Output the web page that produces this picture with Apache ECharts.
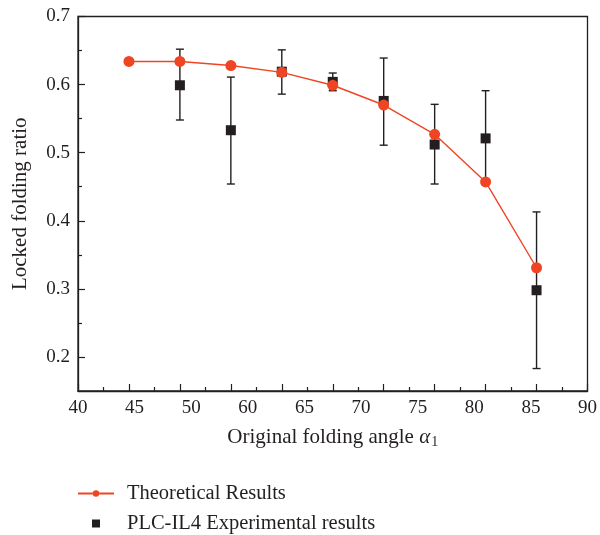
<!DOCTYPE html>
<html>
<head>
<meta charset="utf-8">
<script src="https://cdn.jsdelivr.net/npm/echarts@6/dist/echarts.min.js"></script>
<style>
html,body{margin:0;padding:0;background:#fff;}
#chart{width:600px;height:535px;}
</style>
</head>
<body>
<div id="chart"></div>
<script>
// ---- data ----
const xTickLabels = ['40','45','50','60','65','70','75','80','85','90'];
const yMajorTicks = [0.2, 0.3, 0.4, 0.5, 0.6, 0.7];
const yMinorTicks = [0.25, 0.35, 0.45, 0.55, 0.65];
const theoX = [45, 50, 55, 60, 65, 70, 75, 80, 85];
const theoY = [0.634, 0.634, 0.628, 0.618, 0.599, 0.570, 0.527, 0.457, 0.331];
const expX = [50, 55, 60, 65, 70, 75, 80, 85];
const expY = [0.599, 0.533, 0.619, 0.604, 0.576, 0.512, 0.521, 0.298];
const expHigh = [0.652, 0.611, 0.651, 0.617, 0.639, 0.571, 0.591, 0.413];
const expLow = [0.548, 0.454, 0.586, 0.591, 0.511, 0.454, 0.453, 0.183];

const FONT = '"Liberation Serif", "DejaVu Serif", serif';
const INK = '#231f20';
const RED = '#ef4523';

const chart = echarts.init(document.getElementById('chart'), null, {renderer: 'canvas'});

const theoData = theoX.map((x, i) => [x, theoY[i]]);
const expData = expX.map((x, i) => [x, expY[i]]);
const errData = expX.map((x, i) => [x, expLow[i], expHigh[i]]);

const option = {
  animation: false,
  backgroundColor: '#fff',
  textStyle: {fontFamily: FONT, color: INK},
  grid: {left: 78, right: 10, top: 16.5, bottom: 144, show: true, borderColor: INK, borderWidth: 1.3, backgroundColor: 'transparent'},
  legend: {
    orient: 'vertical',
    left: 77,
    top: 483,
    padding: 0,
    height: 60,
    itemWidth: 36,
    itemHeight: 8,
    itemGap: 9,
    symbolKeepAspect: true,
    textStyle: {fontFamily: FONT, fontSize: 20.5, color: INK, padding: [0,0,0,8]},
    data: [
      {name: 'Theoretical Results'},
      {name: 'PLC-IL4 Experimental results', icon: 'path://M0,0L10,0L10,10L0,10Z'}
    ]
  },
  xAxis: [
    {
      type: 'value', min: 40, max: 90, interval: 5,
      axisLine: {show: true, lineStyle: {color: INK, width: 1.3}},
      axisTick: {show: true, inside: true, length: 7, lineStyle: {color: INK, width: 1.2}},
      minorTick: {show: true, splitNumber: 2, length: 4, lineStyle: {color: INK, width: 1.2}},
      axisLabel: {show: false},
      splitLine: {show: false},
      name: '{a|Original folding angle }{i|α}{s|1}',
      nameLocation: 'middle',
      nameGap: 34,
      nameTextStyle: {
        rich: {
          a: {fontFamily: FONT, fontSize: 21, color: INK},
          i: {fontFamily: FONT, fontSize: 21, fontStyle: 'italic', color: INK},
          s: {fontFamily: FONT, fontSize: 14, color: INK, padding: [10,0,0,1]}
        }
      }
    },
    {
      type: 'value', min: 0, max: 9, interval: 1, position: 'bottom',
      axisLine: {show: false}, axisTick: {show: false}, splitLine: {show: false},
      axisLabel: {show: true, margin: 8, fontFamily: FONT, fontSize: 19, color: INK,
        formatter: v => xTickLabels[Math.round(v)] || ''}
    }
  ],
  yAxis: [
    {
      type: 'value', min: 0.15, max: 0.7,
      axisLine: {show: true, lineStyle: {color: INK, width: 1.3}},
      axisTick: {show: true, inside: true, length: 7, customValues: yMajorTicks, lineStyle: {color: INK, width: 1.2}},
      axisLabel: {margin: 8, fontFamily: FONT, fontSize: 19, color: INK, customValues: yMajorTicks,
        formatter: v => v.toFixed(1)},
      splitLine: {show: false},
      name: 'Locked folding ratio',
      nameLocation: 'middle',
      nameGap: 47,
      nameTextStyle: {fontFamily: FONT, fontSize: 21, color: INK}
    },
    {
      type: 'value', min: 0.15, max: 0.7, position: 'left',
      axisLine: {show: false},
      axisTick: {show: true, inside: true, length: 4, customValues: yMinorTicks, lineStyle: {color: INK, width: 1.2}},
      axisLabel: {show: false},
      splitLine: {show: false}
    }
  ],
  series: [
    {
      name: 'errbars',
      type: 'custom',
      xAxisIndex: 0,
      yAxisIndex: 0,
      data: errData,
      z: 1,
      renderItem: function (params, api) {
        const x = api.value(0);
        const lo = api.coord([x, api.value(1)]);
        const hi = api.coord([x, api.value(2)]);
        const cw = 4;
        const style = {stroke: INK, lineWidth: 1.4};
        return {
          type: 'group',
          children: [
            {type: 'line', shape: {x1: lo[0], y1: lo[1], x2: hi[0], y2: hi[1]}, style: style},
            {type: 'line', shape: {x1: lo[0]-cw, y1: lo[1], x2: lo[0]+cw, y2: lo[1]}, style: style},
            {type: 'line', shape: {x1: hi[0]-cw, y1: hi[1], x2: hi[0]+cw, y2: hi[1]}, style: style}
          ]
        };
      }
    },
    {
      name: 'PLC-IL4 Experimental results',
      type: 'scatter',
      xAxisIndex: 0,
      yAxisIndex: 0,
      data: expData,
      symbol: 'rect',
      symbolSize: 10,
      itemStyle: {color: INK, opacity: 1},
      z: 2
    },
    {
      name: 'Theoretical Results',
      type: 'line',
      xAxisIndex: 0,
      yAxisIndex: 0,
      data: theoData,
      symbol: 'circle',
      symbolSize: 11,
      showAllSymbol: true,
      lineStyle: {color: RED, width: 1.4},
      itemStyle: {color: RED},
      z: 3
    }
  ]
};
chart.setOption(option);
</script>
</body>
</html>
